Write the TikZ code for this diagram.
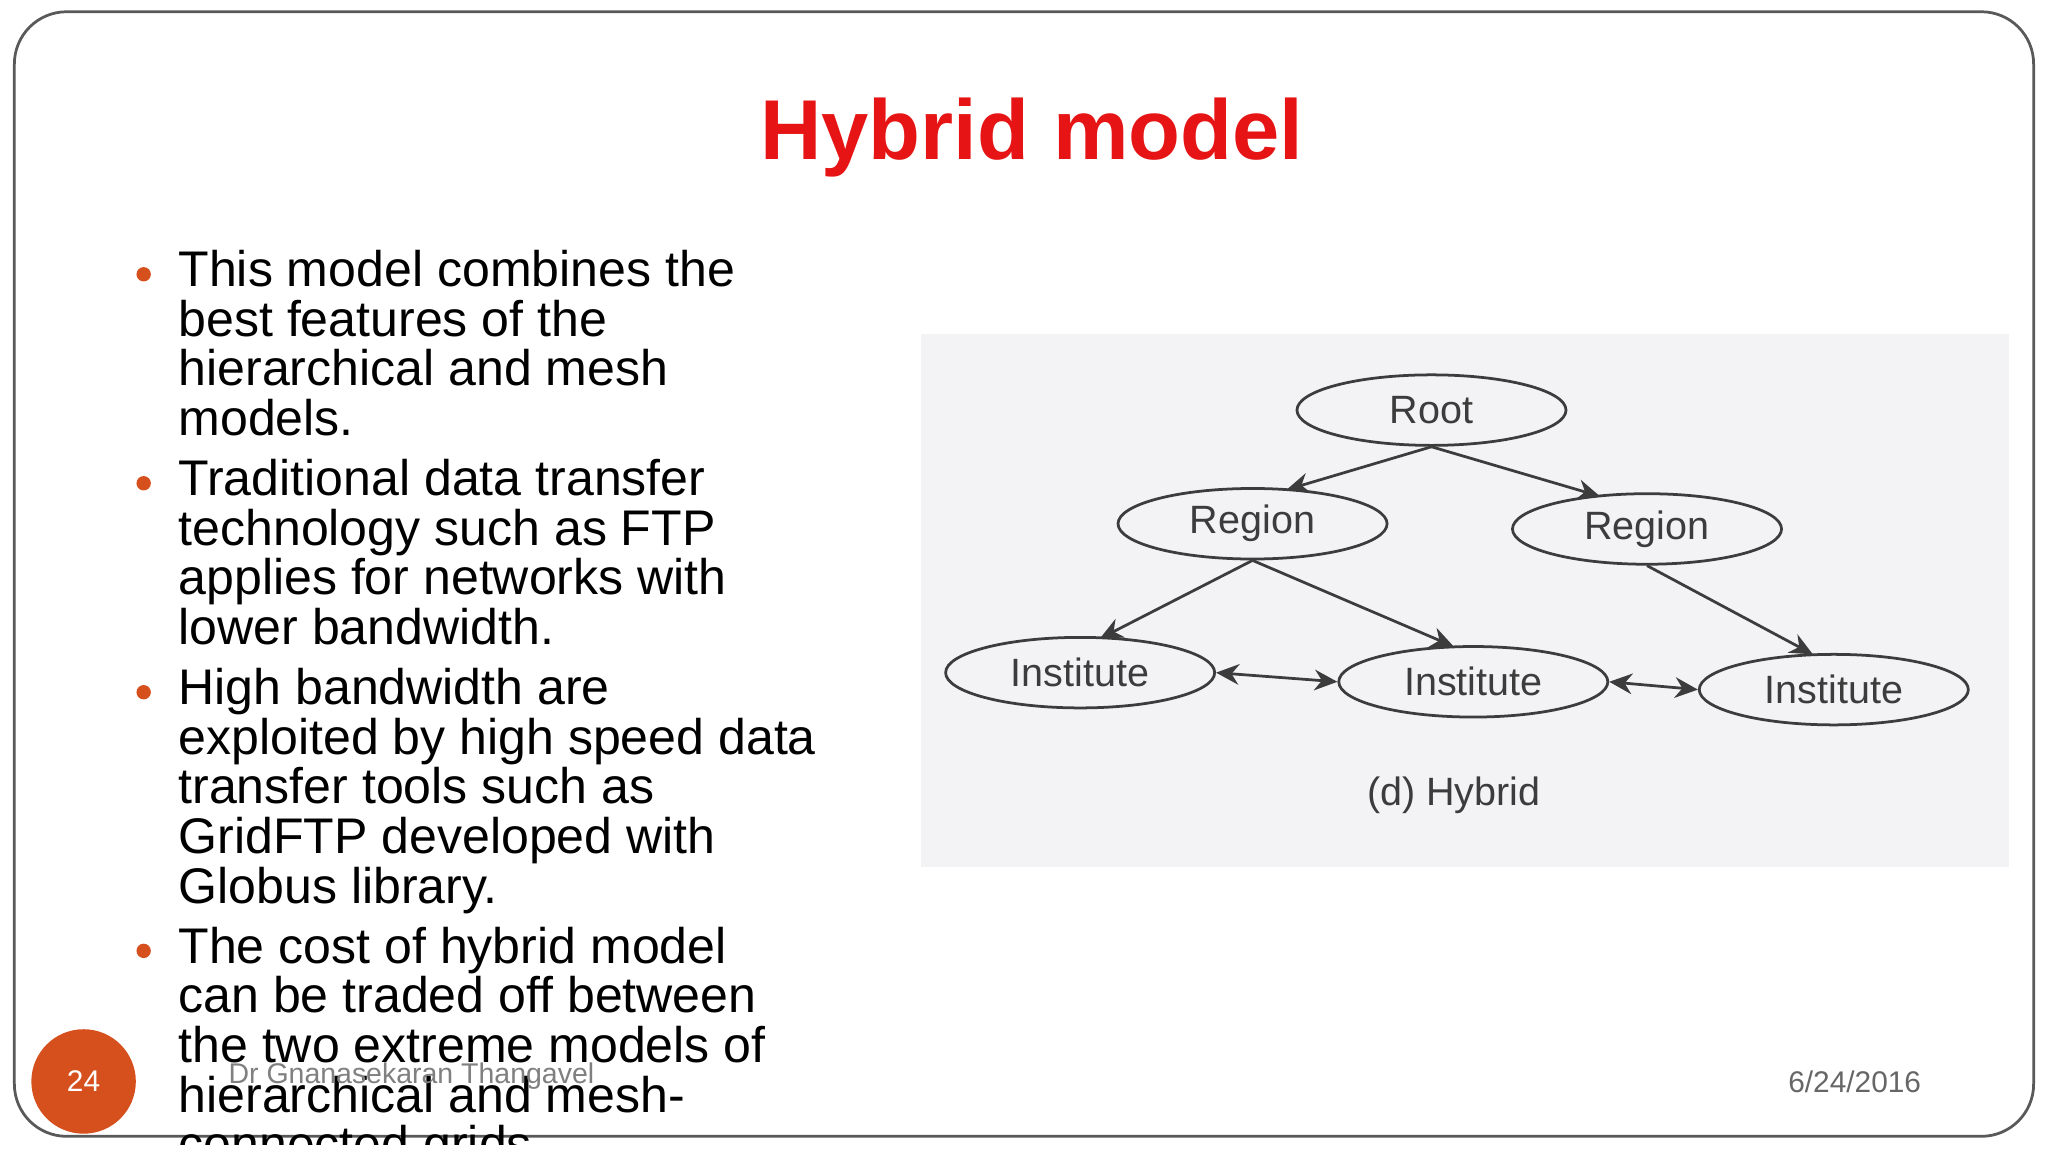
\documentclass[tikz,border=0pt]{standalone}
\usepackage{fontspec}
\setmainfont{Liberation Sans}
\usetikzlibrary{shapes.geometric,arrows.meta}
\definecolor{titlered}{RGB}{230,20,20}
\definecolor{bulletorange}{RGB}{214,80,30}
\definecolor{figbg}{RGB}{243,243,246}
\definecolor{nodegray}{RGB}{60,60,60}
\newcommand{\unitpx}{*0.01cm}
\tikzset{
  ell/.style={ellipse,draw=nodegray,line width=0.6pt,minimum width=206\unitpx,minimum height=54\unitpx,inner sep=0pt,font=\fontsize{8.6}{10}\selectfont,text=nodegray},
  conn/.style={draw=nodegray,line width=0.6pt,-{Stealth[length=5pt,width=4.5pt]}},
  dconn/.style={draw=nodegray,line width=0.6pt,{Stealth[length=5pt,width=4.5pt]}-{Stealth[length=5pt,width=4.5pt]}},
  bul/.style={anchor=north west,align=left,inner sep=0pt,font=\fontsize{10.9}{10.8}\selectfont},
  dot/.style={circle,fill=bulletorange,inner sep=0pt,minimum size=11\unitpx}
}
\begin{document}
\begin{tikzpicture}[x=0.01cm,y=-0.01cm]
\useasboundingbox (0,0) rectangle (1568,882);
\fill[white] (0,0) rectangle (1568,882);
\draw[gray!70!black,line width=0.6pt,rounded corners=40\unitpx] (11,9) rectangle (1557,870);
\node[font=\bfseries\fontsize{18.5}{22}\selectfont,text=titlered] (title) at (790,105) {Hybrid model};
\begin{scope}
\clip (0,0) rectangle (1568,876);
\node[dot] (d1) at (110,210) {};
\node[bul] (b1) at (136,191) {This model combines the\\best features of the\\hierarchical and mesh\\models.};
\node[dot] (d2) at (110,370) {};
\node[bul] (b2) at (136,351) {Traditional data transfer\\technology such as FTP\\applies for networks with\\lower bandwidth.};
\node[dot] (d3) at (110,530) {};
\node[bul] (b3) at (136,511) {High bandwidth are\\exploited by high speed data\\transfer tools such as\\GridFTP developed with\\Globus library.};
\node[dot] (d4) at (110,728) {};
\node[bul] (b4) at (136,709) {The cost of hybrid model\\can be traded off between\\the two extreme models of\\hierarchical and mesh-\\connected grids.};
\end{scope}
\fill[figbg] (705,256) rectangle (1538,664);
\node[ell] (root) at (1096,314) {Root};
\node[ell] (rl) at (959,401) {Region};
\node[ell] (rr) at (1261,405) {Region};
\node[ell] (il) at (827,515) {Institute};
\node[ell] (im) at (1128,522) {Institute};
\node[ell] (ir) at (1404,528) {Institute};
\draw[conn] (root.south) -- (985,375);
\draw[conn] (root.south) -- (1225,380);
\draw[conn] (rl.south) -- (842,489);
\draw[conn] (rl.south) -- (1113,495);
\draw[conn] (rr.south) -- (1388,501);
\draw[dconn] (il.east) -- (im.west);
\draw[dconn] (im.east) -- (ir.west);
\node[font=\fontsize{8.6}{10}\selectfont,text=nodegray] (cap) at (1113,609) {(d) Hybrid};
\node[circle,fill=bulletorange,minimum size=80\unitpx,inner sep=0pt,text=white,font=\fontsize{6.5}{8}\selectfont] (pg) at (64,828) {24};
\node[text=gray,font=\fontsize{6.2}{7}\selectfont] (auth) at (315,824) {Dr Gnanasekaran Thangavel};
\node[text=gray!80!black,font=\fontsize{6.5}{8}\selectfont] (date) at (1420,828) {6/24/2016};
\end{tikzpicture}
\end{document}
